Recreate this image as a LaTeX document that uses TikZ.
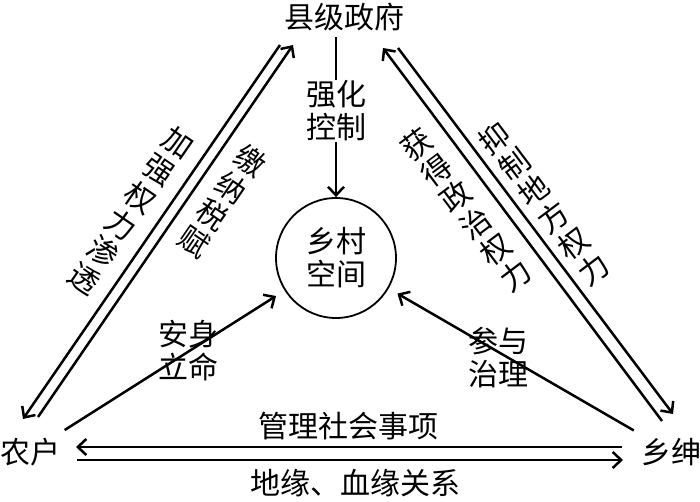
\documentclass[tikz,border=0pt]{standalone}
\usepackage{fontspec}
\newfontfamily\cjk{Noto Sans CJK SC}
\usetikzlibrary{arrows.meta,calc}
\begin{document}
\begin{tikzpicture}[x=1pt,y=-1pt,
  lbl/.style={font=\cjk\fontsize{30}{33}\selectfont, inner sep=0pt, align=center},
  ln/.style={line width=2.5pt},
  arr/.style={ln, -{Straight Barb[length=8.5pt,width=16pt]}}]
\useasboundingbox (0,0) rectangle (700,502);
% main nodes
\node[lbl] (zf) at (344,17) {县级政府};
\node[lbl] (nh) at (30,452) {农户};
\node[lbl] (xs) at (671,452) {乡绅};
\node[lbl, circle, draw, line width=1.8pt, minimum size=120pt] (circ) at (336,258) {乡村\\空间};
% free ends of the parallel connectors
\coordinate (a1) at (280,45);  \coordinate (a2) at (23,419);
\coordinate (b1) at (38,417);  \coordinate (b2) at (293,45);
\coordinate (c1) at (662,421); \coordinate (c2) at (383,48);
\coordinate (d1) at (398,48);  \coordinate (d2) at (673,414);
\coordinate (e1) at (622,447); \coordinate (e2) at (76,447);
\coordinate (f1) at (77,460);  \coordinate (f2) at (623,460);
\draw[arr] (a1) -- (a2);
\draw[arr] (b1) -- (b2);
\draw[arr] (c1) -- (c2);
\draw[arr] (d1) -- (d2);
\draw[arr] (e1) -- (e2);
\draw[arr] (f1) -- (f2);
% arrows to the circle
\draw[arr, shorten <=6pt] (zf.south -| circ.north) -- (circ.north);
\draw[arr] ($(nh.center)!41pt!(circ.center)$) -- ($(circ.center)!71pt!(nh.center)$);
\draw[arr] ($(xs.center)!43pt!(circ.center)$) -- ($(circ.center)!71pt!(xs.center)$);
% labels
\node[lbl, fill=white, inner sep=1pt] (qh) at (336,111) {强化\\控制};
\node[lbl] (as) at (188,351) {安身\\立命};
\node[lbl] (cy) at (498,358) {参与\\治理};
\node[lbl] (gl) at (348,426) {管理社会事项};
\node[lbl] (dy) at (355,483) {地缘、血缘关系};
\node[lbl, rotate=-34.5] (jq) at (131,211) {加\\强\\权\\力\\渗\\透};
\node[lbl, rotate=-34.5] (jn) at (222,201) {缴\\纳\\税\\赋};
\node[lbl, rotate=37] (hd) at (466,210) {获\\得\\政\\治\\权\\力};
\node[lbl, rotate=37] (yz) at (544,204) {抑\\制\\地\\方\\权\\力};
\end{tikzpicture}
\end{document}
